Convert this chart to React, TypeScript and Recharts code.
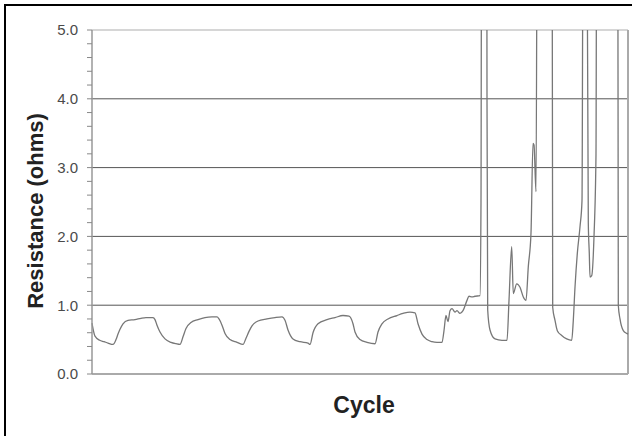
import React from 'react';
import { LineChart, Line, XAxis, YAxis, ReferenceLine } from 'recharts';

// Cycle position (relative units) and resistance (ohms); values above 5 are clipped by the axis
const cycles: number[] = [
  0, 1, 3, 7.7, 12, 16, 21, 24, 26, 28, 31, 36, 43, 49, 54, 61,
  63, 65, 68, 73, 79, 84, 88, 91, 94, 99, 106, 113, 120, 125,
  127, 130, 133, 138, 145, 151, 154, 157, 160, 166, 175, 183, 190,
  193, 196, 201, 208, 216, 218, 221, 226, 235, 243, 251, 257, 261,
  263, 268, 275, 283, 286, 290, 296, 305, 311, 318, 323, 326, 330,
  335, 340, 345, 350, 352, 354, 356, 358, 360, 363, 365, 368, 371,
  375, 377, 380, 383, 388, 389, 389.7, 394.7, 395, 395.7, 398, 403,
  410, 415, 417, 419.7, 421.3, 424.7, 428, 431.3, 434, 436.3, 439,
  441, 442, 444, 445.5, 460, 460.7, 463, 465.3, 469.7, 474.7, 479.7,
  481.3, 483, 485.3, 488, 490, 491.3, 494.5, 496.3, 497.3, 498, 499.7,
  502, 504, 504.8, 525.7, 526.3, 528, 531.3, 534.7, 536,
];

const resistance: number[] = [
  0.74, 0.66, 0.55, 0.49, 0.47, 0.45, 0.43, 0.5, 0.58, 0.65, 0.73, 0.78, 0.79, 0.81, 0.82, 0.82,
  0.79, 0.71, 0.61, 0.51, 0.46, 0.44, 0.43, 0.54, 0.66, 0.75, 0.79, 0.82, 0.83, 0.83,
  0.8, 0.71, 0.59, 0.5, 0.46, 0.43, 0.52, 0.62, 0.7, 0.77, 0.8, 0.82, 0.83,
  0.78, 0.64, 0.51, 0.47, 0.45, 0.43, 0.6, 0.73, 0.79, 0.82, 0.85, 0.84, 0.73,
  0.61, 0.5, 0.46, 0.44, 0.61, 0.73, 0.8, 0.85, 0.88, 0.9, 0.89, 0.73, 0.58,
  0.5, 0.47, 0.46, 0.46, 0.63, 0.85, 0.76, 0.92, 0.95, 0.9, 0.92, 0.88, 0.92,
  1.07, 1.13, 1.12, 1.13, 1.14, 2.5, 8, 8, 4.0, 0.93, 0.64, 0.51,
  0.49, 0.49, 1.07, 1.85, 1.17, 1.31, 1.26, 1.12, 1.07, 1.56, 2.05,
  3.35, 3.33, 2.65, 8, 8, 0.97, 0.78, 0.63, 0.56, 0.51, 0.49,
  0.78, 1.26, 1.75, 2.14, 2.52, 8, 8, 2.2, 1.75, 1.41, 1.43,
  2.0, 3.2, 8, 8, 1.0, 0.8, 0.63, 0.59, 0.58,
];

const yTicks: number[] = [
  0, 0.2, 0.4, 0.6, 0.8, 1, 1.2, 1.4, 1.6, 1.8, 2, 2.2, 2.4, 2.6, 2.8, 3,
  3.2, 3.4, 3.6, 3.8, 4, 4.2, 4.4, 4.6, 4.8, 5,
];
const gridValues: number[] = [1, 2, 3, 4];

const data = cycles.map((c, i) => ({ cycle: c, r: resistance[i] }));

const YTick = (props: any) => {
  const { x, y, payload } = props;
  const v = payload.value;
  if (Math.abs(v - Math.round(v)) > 1e-6) return <g />;
  return (
    <text x={x} y={y} dy="0.36em" textAnchor="end" fill="#4a4a4a" fontSize={15} fontFamily="Liberation Sans, Arial, sans-serif">
      {v.toFixed(1)}
    </text>
  );
};

export default function App() {
  return (
    <div style={{ position: 'absolute', left: 0, top: 0, width: 632, height: 436, background: '#fff' }}>
      <div
        style={{
          position: 'absolute',
          left: 4,
          top: 4,
          width: 628,
          height: 432,
          borderTop: '2px solid #000',
          borderLeft: '2px solid #000',
          boxSizing: 'border-box',
        }}
      />
      <LineChart width={632} height={436} data={data} margin={{ top: 30, right: 4, left: 0, bottom: 0 }}>
        <XAxis
          dataKey="cycle"
          type="number"
          domain={[0, 536]}
          tick={false}
          tickLine={false}
          height={62}
          axisLine={{ stroke: '#aaa', strokeWidth: 2 }}
          label={{
            value: 'Cycle',
            position: 'insideBottom',
            offset: 23,
            dx: 4,
            style: { fontSize: 23, fontWeight: 'bold', fill: '#222', fontFamily: 'Liberation Sans, Arial, sans-serif' },
          }}
        />
        <YAxis
          type="number"
          domain={[0, 5]}
          ticks={yTicks}
          interval={0}
          allowDataOverflow
          width={92}
          tickSize={5}
          tickMargin={9}
          tick={<YTick />}
          tickLine={{ stroke: '#888' }}
          axisLine={{ stroke: '#999', strokeWidth: 1.5 }}
          label={{
            value: 'Resistance (ohms)',
            angle: -90,
            position: 'center',
            dx: -11,
            dy: 9,
            style: { fontSize: 22, fontWeight: 'bold', fill: '#222', fontFamily: 'Liberation Sans, Arial, sans-serif', textAnchor: 'middle' },
          }}
        />
        {gridValues.map((g) => (
          <ReferenceLine key={g} y={g} stroke="#555" strokeWidth={1} />
        ))}
        <ReferenceLine y={5} stroke="#c8c8c8" strokeWidth={1.5} />
        <ReferenceLine x={536} stroke="#aaa" strokeWidth={2} />
        <Line
          type="monotone"
          dataKey="r"
          stroke="#777"
          strokeWidth={1.3}
          dot={false}
          isAnimationActive={false}
        />
      </LineChart>
    </div>
  );
}
